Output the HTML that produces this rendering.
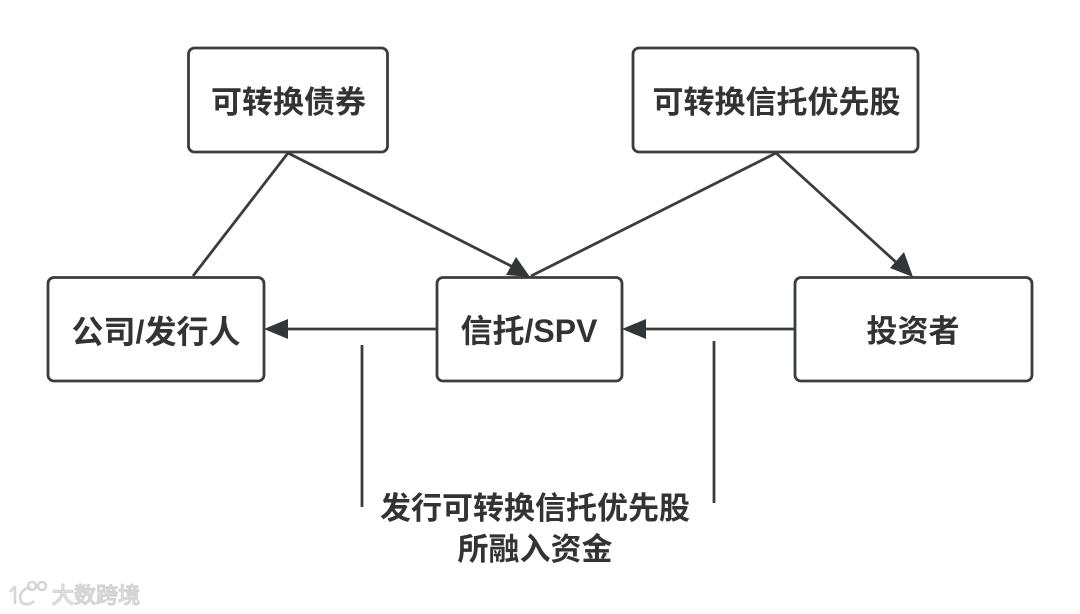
<!DOCTYPE html>
<html><head><meta charset="utf-8"><style>
html,body{margin:0;padding:0;background:#fff}
svg{display:block}
text{font-family:"Liberation Sans","Noto Sans CJK SC",sans-serif;font-weight:700;fill:#333;text-anchor:middle}
</style></head><body>
<svg width="1080" height="614" viewBox="0 0 1080 614" xmlns="http://www.w3.org/2000/svg">
<rect width="1080" height="614" fill="#fff"/>
<g fill="#fff" stroke="#3a3d40" stroke-width="2.8">
<rect x="188.5" y="48" width="199" height="104" rx="6"/>
<rect x="633" y="48" width="285" height="104" rx="6"/>
<rect x="48" y="277.5" width="216" height="103.5" rx="6"/>
<rect x="437" y="277.5" width="185" height="103.5" rx="6"/>
<rect x="795" y="277.5" width="237" height="103.5" rx="6"/>
</g>
<g stroke="#3a3d40" stroke-width="2.8" fill="none">
<line x1="288" y1="153" x2="193" y2="276"/>
<line x1="288" y1="153" x2="515" y2="268"/>
<line x1="776" y1="153" x2="531" y2="276"/>
<line x1="776" y1="153" x2="898" y2="264"/>
<line x1="437" y1="329" x2="285" y2="329"/>
<line x1="795" y1="329" x2="643" y2="329"/>
<line x1="362" y1="345" x2="362" y2="507"/>
<line x1="714" y1="341" x2="714" y2="503"/>
</g>
<g fill="#333639">
<polygon points="530,277 506,275 516,257"/>
<polygon points="913,277 890,268 904,252"/>
<polygon points="264,329 288,319 288,339"/>
<polygon points="622,329 646,319 646,339"/>
</g>
<text x="288.5" y="113" font-size="31">可转换债券</text>
<text x="776.5" y="113" font-size="31">可转换信托优先股</text>
<text x="156" y="343" font-size="32">公司/发行人</text>
<text x="529" y="342" font-size="32">信托/SPV</text>
<text x="913" y="342" font-size="31">投资者</text>
<text x="535" y="519" font-size="31">发行可转换信托优先股</text>
<text x="535" y="560" font-size="31">所融入资金</text>
<text x="96" y="603" font-size="22" style="font-weight:400;fill:#fff;stroke:#d4d4d4;stroke-width:1.4">大数跨境</text>
<g fill="none" stroke="#d6d6d6" stroke-width="2.5">
<path d="M15 586 L10 592 M15 586 L15 604"/>
<path d="M31 588 A9.500 9.500 0 0 0 22 603 A9.500 9.500 0 0 0 34 601"/>
<circle cx="32" cy="586" r="4"/>
<circle cx="42" cy="586" r="4"/>
</g>
</svg>
</body></html>
